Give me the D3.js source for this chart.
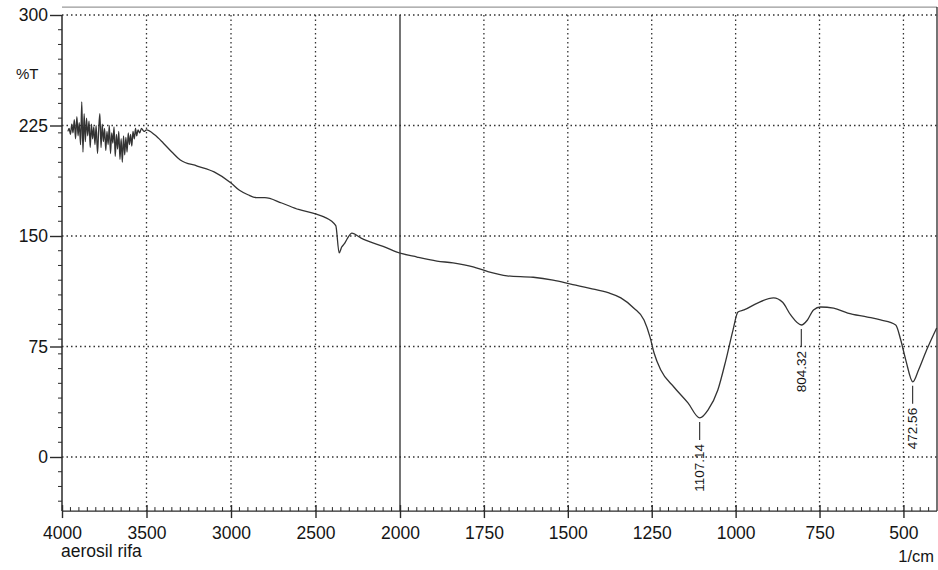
<!DOCTYPE html>
<html>
<head>
<meta charset="utf-8">
<script src="https://cdn.jsdelivr.net/npm/d3@7"></script>
<style>
  body { margin: 0; background: #fff; }
  svg { display: block; font-family: "Liberation Sans", Arial, sans-serif; }
</style>
</head>
<body>
<svg id="chart" width="938" height="570"></svg>
<script>
// wavenumber (1/cm) and %T
const noiseWn = [3965,3958,3950,3942,3935,3927,3920,3912,3905,3898,3890,3883,3876,3869,3862,3855,3848,3840,3833,3826,3819,3812,3805,3798,3790,3783,3776,3769,3762,3755,3748,3741,3734,3727,3720,3713,3706,3699,3692,3685,3678,3671,3664,3657,3650,3643,3636,3629,3622,3615,3608,3601,3594,3587,3580,3572,3565,3558,3550,3540,3530,3515];
const noiseT  = [221,223,219,226,220,229,216,231,218,227,212,241,207,233,214,230,218,228,210,226,216,224,212,225,206,222,233,210,226,214,223,208,221,212,225,206,220,213,224,204,219,209,221,202,216,200,218,205,217,207,220,212,219,211,221,216,223,218,222,220,223,221];

const smoothWn = [3500,3450,3400,3350,3300,3200,3100,3000,2950,2900,2850,2800,2700,2600,2500,2450,2380,2360,2345,2330,2310,2285,2230,2200,2100,2018,1949,1890,1842,1782,1740,1681,1603,1544,1485,1434,1380,1342,1303,1273,1255,1243,1223,1184,1142,1107,1082,1053,1029,1008,993,975,935,887,860,836,804,786,768,747,708,666,607,568,523,508,493,472,455,431,401];
const smoothT  = [222,218.5,213,207,201.6,197.5,193.5,186,181,178,176,176,172.4,168,165,163,157,138.5,142.5,144.6,148.6,152,148.6,147,143,139,135.7,133,131.7,129,126,123,122,120,117,114.5,111.5,108,101,93,81.4,70.6,59,47.5,36.7,26.5,32,45.5,65.8,86,98.4,99.8,104.5,108,105,96.4,89.6,93,99.8,101.8,101,97.7,95,93,89.6,79.4,65.8,51,59,72.6,87.6];

const peakWn = [1107.14, 804.32, 472.56];
const peakT  = [26.5, 89.6, 51];

const xMajor = [4000,3500,3000,2500,2000,1750,1500,1250,1000,750,500];
const yMajor = [300,225,150,75,0];

const svg = d3.select("#chart");
const x = d3.scaleLinear().domain([4000, 2000, 400]).range([62, 400, 937]);
const y = d3.scaleLinear().domain([0, 300]).range([457, 15]);
const yBottom = y(-36.7), yTop = y(305.4);
const ink = "#2a2a2a";
const textInk = "#151515";

// frame
svg.append("line").attr("x1", x(4000)).attr("x2", x(400)).attr("y1", yTop).attr("y2", yTop)
  .attr("stroke", "#999").attr("stroke-width", 1.2);
svg.append("line").attr("x1", x(400)).attr("x2", x(400)).attr("y1", yTop).attr("y2", yBottom)
  .attr("stroke", ink).attr("stroke-width", 1.3);

// grid
svg.append("g").selectAll("line").data(yMajor).join("line")
  .attr("x1", x(4000)).attr("x2", x(400))
  .attr("y1", d => y(d)).attr("y2", d => y(d))
  .attr("stroke", "#333").attr("stroke-width", 1.3).attr("stroke-dasharray", "1.5 3");
svg.append("g").selectAll("line").data(xMajor.slice(1)).join("line")
  .attr("x1", d => x(d)).attr("x2", d => x(d))
  .attr("y1", y(300)).attr("y2", yBottom)
  .attr("stroke", d => d === 2000 ? ink : "#333")
  .attr("stroke-width", d => d === 2000 ? 1.3 : 1.3)
  .attr("stroke-dasharray", d => d === 2000 ? null : "1.5 3");

// x axis
const minorX = d3.range(4000, 2000, -50).concat(d3.range(2000, 400, -25)).filter(d => !xMajor.includes(d));
svg.append("line").attr("x1", x(4000)).attr("x2", x(400)).attr("y1", yBottom).attr("y2", yBottom)
  .attr("stroke", ink).attr("stroke-width", 1.3);
svg.append("g").selectAll("line").data(minorX).join("line")
  .attr("x1", d => x(d)).attr("x2", d => x(d))
  .attr("y1", yBottom).attr("y2", yBottom - 4)
  .attr("stroke", ink).attr("stroke-width", 1);
const xAxis = svg.append("g")
  .attr("transform", `translate(0,${yBottom})`)
  .call(d3.axisBottom(x).tickValues(xMajor).tickSize(7).tickSizeOuter(0).tickPadding(9).tickFormat(d3.format("d")));
xAxis.select(".domain").remove();
xAxis.selectAll("line").attr("stroke", ink).attr("stroke-width", 1.4).attr("y1", -6);
xAxis.selectAll("text").attr("font-size", 17.5).attr("fill", textInk).attr("font-family", "Liberation Sans, Arial, sans-serif");

// y axis
svg.append("line").attr("x1", x(4000)).attr("x2", x(4000)).attr("y1", y(300)).attr("y2", yBottom)
  .attr("stroke", ink).attr("stroke-width", 1.5);
const minorY = d3.range(-30, 300, 10).filter(d => !yMajor.includes(d));
svg.append("g").selectAll("line").data(minorY).join("line")
  .attr("x1", x(4000) - 4).attr("x2", x(4000))
  .attr("y1", d => y(d)).attr("y2", d => y(d))
  .attr("stroke", ink).attr("stroke-width", 1);
const yAxis = svg.append("g")
  .attr("transform", `translate(${x(4000)},0)`)
  .call(d3.axisLeft(y).tickValues(yMajor).tickSize(12).tickSizeOuter(0).tickPadding(2));
yAxis.select(".domain").remove();
yAxis.selectAll("line").attr("stroke", ink).attr("stroke-width", 1.4);
yAxis.selectAll("text").attr("font-size", 17.5).attr("fill", textInk).attr("font-family", "Liberation Sans, Arial, sans-serif");

// labels
svg.append("text").attr("x", 16).attr("y", 79).attr("font-size", 15).attr("fill", textInk).text("%T");
svg.append("text").attr("x", 61).attr("y", 557).attr("font-size", 17.5).attr("fill", textInk).text("aerosil rifa");
svg.append("text").attr("x", 934).attr("y", 562).attr("text-anchor", "end").attr("font-size", 16.5).attr("fill", textInk).text("1/cm");

// spectrum
const pts = noiseWn.map((w, i) => [w, noiseT[i]]).concat(smoothWn.map((w, i) => [w, smoothT[i]]));
svg.append("path")
  .datum(pts)
  .attr("fill", "none")
  .attr("stroke", "#333")
  .attr("stroke-width", 1.3)
  .attr("d", d3.line().x(d => x(d[0])).y(d => y(d[1])).curve(d3.curveMonotoneX));

// peak markers
const peaks = svg.append("g").selectAll("g").data(peakWn).join("g")
  .attr("transform", (d, i) => `translate(${x(d)},${y(peakT[i])})`);
peaks.append("line").attr("x1", 0).attr("x2", 0).attr("y1", 4).attr("y2", 22)
  .attr("stroke", ink).attr("stroke-width", 1.1);
peaks.append("text")
  .attr("transform", "translate(4.5,26) rotate(-90)")
  .attr("text-anchor", "end")
  .attr("font-size", 13.5)
  .attr("fill", textInk)
  .text(d => d.toFixed(2));
</script>
</body>
</html>
